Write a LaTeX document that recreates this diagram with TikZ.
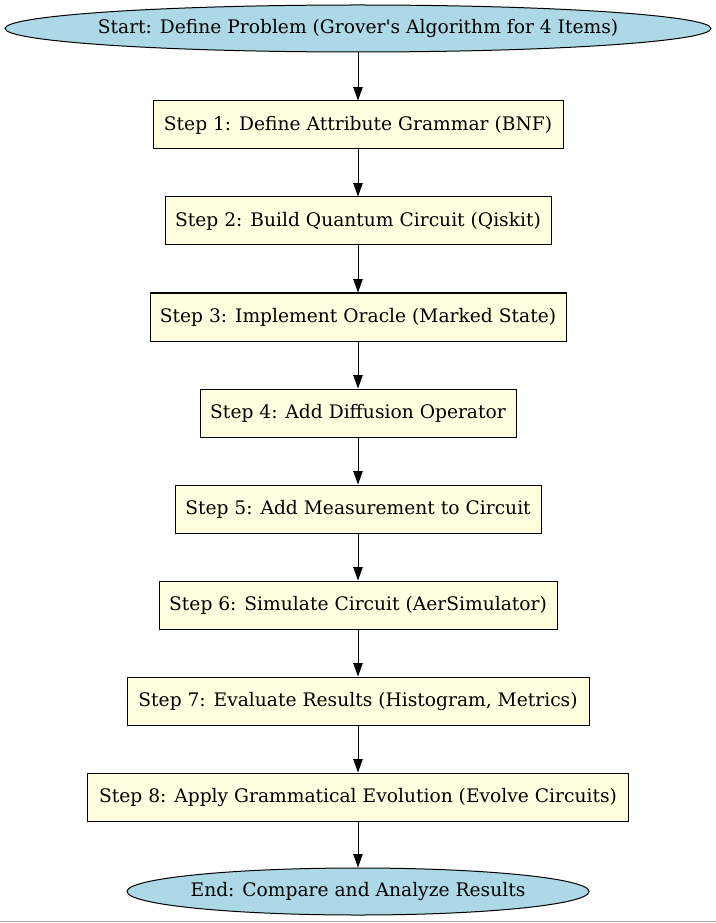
\documentclass[tikz,border=0pt]{standalone}
\usepackage{fontspec}
\setmainfont{DejaVu Serif}
\usetikzlibrary{arrows.meta,shapes.geometric}
\definecolor{lblue}{HTML}{ADD8E6}
\definecolor{lyellow}{HTML}{FFFFE0}
\newcommand{\zw}[1]{\makebox[0pt]{#1}}
\tikzset{
  stepbox/.style={draw=black, fill=lyellow, rectangle, inner sep=0pt, minimum height=36pt, line width=0.75pt, font=\fontsize{14pt}{16pt}\selectfont},
  term/.style={draw=black, fill=lblue, ellipse, inner sep=0pt, minimum height=35.25pt, line width=0.75pt, font=\fontsize{14pt}{16pt}\selectfont},
  flow/.style={draw=black, line width=0.75pt, -{Triangle[length=10pt,width=7pt]}}
}
\begin{document}
\begin{tikzpicture}[x=0.75pt,y=-0.75pt]
\useasboundingbox (0,0) rectangle (716,923);
\node[term, minimum width=529.5pt] (start) at (358,28.5) {\zw{Start: Define Problem (Grover\textquotesingle s Algorithm for 4 Items)}};
\node[stepbox, minimum width=307.5pt] (s1) at (358,125) {Step 1: Define Attribute Grammar (BNF)};
\node[stepbox, minimum width=289.5pt] (s2) at (358,221) {Step 2: Build Quantum Circuit (Qiskit)};
\node[stepbox, minimum width=312pt] (s3) at (358,317) {Step 3: Implement Oracle (Marked State)};
\node[stepbox, minimum width=237pt] (s4) at (358,413) {Step 4: Add Diffusion Operator};
\node[stepbox, minimum width=274.5pt] (s5) at (358,509) {Step 5: Add Measurement to Circuit};
\node[stepbox, minimum width=298.5pt] (s6) at (358,605) {Step 6: Simulate Circuit (AerSimulator)};
\node[stepbox, minimum width=346.5pt] (s7) at (358,701) {Step 7: Evaluate Results (Histogram, Metrics)};
\node[stepbox, minimum width=405.75pt] (s8) at (358,797) {Step 8: Apply Grammatical Evolution (Evolve Circuits)};
\node[term, minimum width=346.5pt] (end) at (358,891.5) {\zw{End: Compare and Analyze Results}};
\draw[flow] (start) -- (s1);
\draw[flow] (s1) -- (s2);
\draw[flow] (s2) -- (s3);
\draw[flow] (s3) -- (s4);
\draw[flow] (s4) -- (s5);
\draw[flow] (s5) -- (s6);
\draw[flow] (s6) -- (s7);
\draw[flow] (s7) -- (s8);
\draw[flow] (s8) -- (end);
\coordinate (bl) at (0,921.5);
\coordinate (br) at (716,921.5);
\draw[gray!70, line width=1.2pt] (bl) -- (br);
\end{tikzpicture}
\end{document}
